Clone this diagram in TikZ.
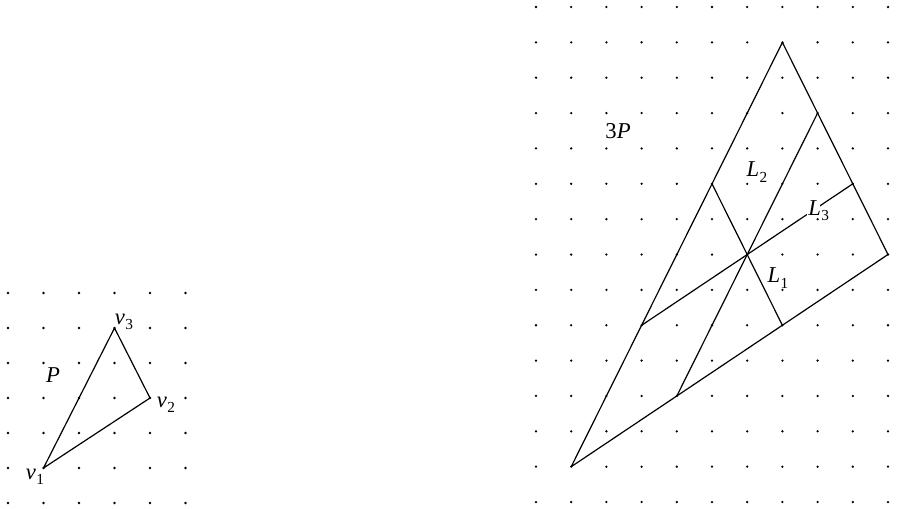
\documentclass[tikz,border=0pt]{standalone}
\usepackage{fontspec}
\setmainfont{Liberation Serif}
\newcommand{\lblsub}[2]{\textit{#1}\kern0.3pt\raisebox{-0.5ex}{\fontsize{11.5}{12}\selectfont #2}}
\tikzset{
  edge/.style={line width=0.9pt, line join=round, line cap=round},
  dot/.style={fill=black},
  lab/.style={inner sep=0pt, font=\fontsize{17}{19}\selectfont},
  mask/.style={fill=white},
}
\begin{document}
\begin{tikzpicture}[x=0.75pt, y=-0.75pt]
\useasboundingbox (0,0) rectangle (920,508);
% small triangle P
\coordinate (v1) at (43.5,468);
\coordinate (v2) at (150,398);
\coordinate (v3) at (114.5,328);
\draw[edge] (v1) -- (v2) -- (v3) -- cycle;
% large triangle 3P
\coordinate (A) at (571.2,466.7);
\coordinate (B) at (888.0,254.5);
\coordinate (C) at (782.4,42.4);
\coordinate (O) at (747.2,254.5);
\coordinate (P1) at (712.0,183.8);
\coordinate (P2) at (782.4,325.3);
\coordinate (P3) at (817.6,113.1);
\coordinate (P4) at (676.8,396.0);
\coordinate (P5) at (852.8,183.8);
\coordinate (P6) at (641.6,325.3);
\draw[edge] (A) -- (B) -- (C) -- cycle;
\draw[edge] (P1) -- (P2);
\draw[edge] (P3) -- (P4);
\draw[edge] (P5) -- (P6);
\fill[mask] (806.5,203) rectangle (820,217);
% dot grids
\foreach \i in {0,...,5}
  \foreach \k in {0,...,6}
    \fill[dot] ({8+35.5*\i},{293+35*\k}) circle[radius=0.95pt];
\foreach \i in {0,...,10}
  \foreach \j in {0,...,14}
    \fill[dot] ({536+35.2*\i},{7+35.36*\j}) circle[radius=0.95pt];
% labels
\node[lab] (lv1) at (35,477) {\lblsub{v}{1}};
\node[lab] (lv2) at (166,405) {\lblsub{v}{2}};
\node[lab] (lv3) at (124,322) {\lblsub{v}{3}};
\node[lab] (lP) at (53,375) {\textit{P}};
\node[lab] (l3P) at (618,131) {3\textit{P}};
\node[lab] (lL2) at (757,172) {\lblsub{L}{2}};
\node[lab] (lL1) at (778,278) {\lblsub{L}{1}};
\node[lab, anchor=west] (lL3) at (808,211) {\lblsub{L}{3}};
\end{tikzpicture}
\end{document}
